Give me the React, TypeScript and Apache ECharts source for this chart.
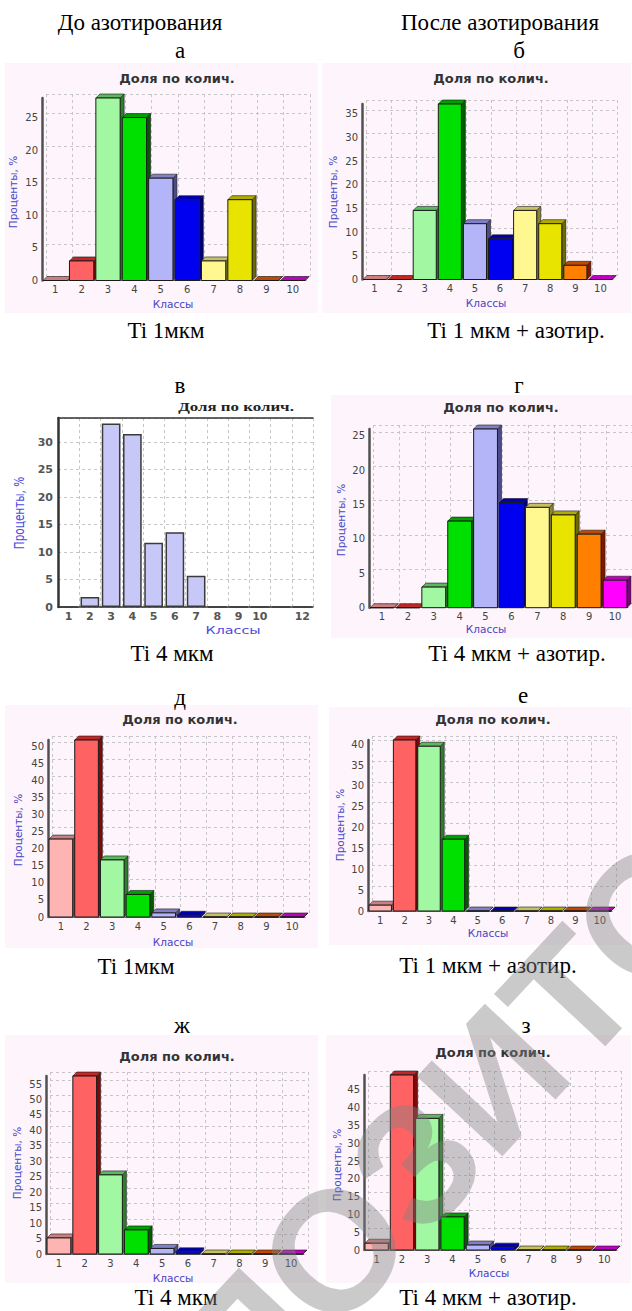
import React, { useEffect, useRef } from 'react';
import * as echarts from 'echarts';

// ---------- data ----------
const CLASSES10 = ['1', '2', '3', '4', '5', '6', '7', '8', '9', '10'];
const CLASSES12 = ['1', '2', '3', '4', '5', '6', '7', '8', '9', '10', '11', '12'];

const VALUES_A = [0, 3, 28, 25, 15.7, 12.4, 3, 12.4, 0, 0];
const VALUES_B = [0, 0, 14.6, 37.1, 11.8, 8.6, 14.6, 11.8, 3.0, 0];
const VALUES_V = [0, 1.8, 33.4, 31.5, 11.7, 13.6, 5.7, 0, 0, 0, 0, 0];
const VALUES_G = [0, 0, 3, 12.6, 26, 15.3, 14.6, 13.5, 10.7, 4.0];
const VALUES_D = [22.8, 51.8, 16.7, 6.6, 1.2, 0.5, 0, 0, 0, 0];
const VALUES_E = [1.4, 41, 39.5, 17.2, 0, 0, 0, 0, 0, 0];
const VALUES_ZH = [5.2, 57.6, 25.6, 7.8, 1.8, 0.7, 0, 0, 0, 0];
const VALUES_Z = [1.9, 49.2, 37, 9.3, 1.4, 0.8, 0, 0, 0, 0];
const V_MAX = 34.4;

const HEADERS = ['До азотирования', 'После азотирования'];
const LETTERS = ['а', 'б', 'в', 'г', 'д', 'е', 'ж', 'з'];
const CAPTIONS = ['Ti 1мкм', 'Ti 1 мкм + азотир.', 'Ti 4 мкм', 'Ti 4 мкм + азотир.', 'Ti 1мкм', 'Ti 1 мкм + азотир.', 'Ti 4 мкм', 'Ti 4 мкм + азотир.'];
const CHART_TITLE = 'Доля по колич.';
const Y_NAME = 'Проценты, %';
const X_NAME = 'Классы';
const WATERMARK = 'РЕПОЗИТОРИЙ';

// ---------- styles ----------
const FRONT = ['#FFB4B4', '#FF6262', '#A2F8A2', '#00E000', '#B4B4F8', '#0000F0', '#FFF890', '#E8E400', '#FF8000', '#FF00FF'];
const TOP = ['#C88080', '#C02828', '#5CB85C', '#00A000', '#8080C8', '#0000B0', '#C8C060', '#B0AC00', '#C04800', '#C000C0'];
const SIDE = ['#905050', '#800808', '#2E7E2E', '#005C00', '#4C4C8C', '#000070', '#8C8430', '#6C6A00', '#801800', '#800080'];
const BG = '#fdf5fb';
const SERIF = "'Liberation Serif', 'Times New Roman', serif";
const SANS = "'DejaVu Sans', sans-serif";

// 3D panels layout: grid (left, top, width, bottom), bg rect, text positions
const PANELS3D = [
  { values: VALUES_A, left: 42, top: 98, width: 264, bottom: 280.5, bg: [5, 63, 313, 250], title: [177, 78], yname: [13, 192], xname: [173, 304] },
  { values: VALUES_B, left: 362, top: 104, width: 251, bottom: 279.5, bg: [322, 63, 309, 250], title: [491, 78], yname: [333, 192], xname: [486, 303] },
  { values: VALUES_G, left: 369, top: 429, width: 259, bottom: 607.7, bg: [331, 395, 301, 243], title: [501, 407], yname: [341, 520], xname: [486, 629] },
  { values: VALUES_D, left: 48, top: 740, width: 257, bottom: 917, bg: [5, 705, 313, 243], title: [180, 719], yname: [18, 830], xname: [173, 942] },
  { values: VALUES_E, left: 368, top: 740, width: 244, bottom: 911, bg: [329, 707, 302, 238], title: [493, 719], yname: [340, 825], xname: [488, 933] },
  { values: VALUES_ZH, left: 46, top: 1076, width: 258, bottom: 1254, bg: [5, 1035, 313, 248], title: [177, 1056], yname: [17, 1163], xname: [173, 1278] },
  { values: VALUES_Z, left: 364, top: 1075, width: 253, bottom: 1250, bg: [326, 1035, 305, 248], title: [493, 1052], yname: [337, 1165], xname: [489, 1273] },
];
const V_PANEL = { left: 58, top: 418, width: 255, bottom: 607, title: [236, 407], yname: [20, 513], xname: [233, 630] };

const HEADER_POS = [[140, 22], [500, 22]];
const LETTER_POS = [[180, 50], [519, 50], [180, 385], [519, 385], [180, 697], [523, 695], [182, 1025], [526, 1025]];
const CAPTION_POS = [[166, 330], [516, 330], [172, 653], [517, 653], [136, 966], [488, 965], [176, 1297], [488, 1297]];

const DEPTH = 4;

const tickFormatter = (v: number) => (Math.abs(v - Math.round(v / 5) * 5) < 1e-6 ? String(Math.round(v)) : '');

function render3D(params: any, api: any) {
  const idx = api.value(0);
  const v = api.value(1);
  const base = api.coord([idx, 0]);
  const top = api.coord([idx, v]);
  const band = api.size([1, 0])[0];
  const w = band * 0.92;
  const l = base[0] - w / 2;
  const r = base[0] + w / 2;
  const yb = base[1];
  const yt = top[1];
  const d = DEPTH;
  const c = idx % 10;
  return {
    type: 'group',
    children: [
      { type: 'polygon', shape: { points: [[r, yt], [r + d, yt - d], [r + d, yb - d], [r, yb]] }, style: { fill: SIDE[c], stroke: '#1a1a1a', lineWidth: 0.6 } },
      { type: 'polygon', shape: { points: [[l, yt], [l + d, yt - d], [r + d, yt - d], [r, yt]] }, style: { fill: TOP[c], stroke: '#1a1a1a', lineWidth: 0.6 } },
      { type: 'rect', shape: { x: l, y: yt, width: w, height: yb - yt }, style: { fill: FRONT[c], stroke: '#1a1a1a', lineWidth: 1 } },
    ],
  };
}

function buildOption() {
  const grid: any[] = [];
  const xAxis: any[] = [];
  const yAxis: any[] = [];
  const series: any[] = [];
  const graphic: any[] = [];
  const dash = { color: '#c6c6c6', type: [3, 3], width: 1 };

  PANELS3D.forEach((p) => {
    const max = Math.max(...p.values);
    const h = p.bottom - p.top;
    // back plane grid (shifted for 3D look) carrying split lines
    const gb = grid.length;
    grid.push({ left: p.left + DEPTH, top: p.top - DEPTH, width: p.width, height: h });
    xAxis.push({ gridIndex: gb, type: 'category', data: CLASSES10, axisLine: { show: false }, axisTick: { show: false }, axisLabel: { show: false }, splitLine: { show: true, interval: 0, lineStyle: dash } });
    yAxis.push({ gridIndex: gb, type: 'value', min: 0, max, interval: 5, axisLine: { show: false }, axisTick: { show: false }, axisLabel: { show: false }, splitLine: { show: true, lineStyle: dash } });
    // front grid
    const gi = grid.length;
    grid.push({ left: p.left, top: p.top, width: p.width, height: h });
    xAxis.push({
      gridIndex: gi, type: 'category', data: CLASSES10, boundaryGap: true,
      axisLine: { show: true, lineStyle: { color: '#707070', width: 1 } }, axisTick: { show: false },
      axisLabel: { interval: 0, margin: 4, fontSize: 10, color: '#444', fontFamily: SANS }, splitLine: { show: false },
    });
    yAxis.push({
      gridIndex: gi, type: 'value', min: 0, max, interval: 5,
      axisLine: { show: true, lineStyle: { color: '#505050', width: 2.5 } }, axisTick: { show: false },
      axisLabel: { margin: 4, fontSize: 10, color: '#444', fontFamily: SANS, formatter: tickFormatter }, splitLine: { show: false },
    });
    series.push({
      type: 'custom', xAxisIndex: gi, yAxisIndex: gi, renderItem: render3D, encode: { x: 0, y: 1 },
      data: p.values.map((v, i) => [i, v]), z: 3,
    });
    graphic.push({ type: 'rect', z: -10, shape: { x: p.bg[0], y: p.bg[1], width: p.bg[2], height: p.bg[3] }, style: { fill: BG } });
    graphic.push({ type: 'text', z: 5, x: p.title[0], y: p.title[1], style: { text: CHART_TITLE, font: `bold 13px ${SANS}`, fill: '#333', textAlign: 'center', textVerticalAlign: 'middle' } });
    graphic.push({ type: 'text', z: 5, x: p.yname[0], y: p.yname[1], rotation: Math.PI / 2, style: { text: Y_NAME, font: `10.5px ${SANS}`, fill: '#4646c8', textAlign: 'center', textVerticalAlign: 'middle' } });
    graphic.push({ type: 'text', z: 5, x: p.xname[0], y: p.xname[1], style: { text: X_NAME, font: `10.5px ${SANS}`, fill: '#4646c8', textAlign: 'center', textVerticalAlign: 'middle' } });
  });

  // flat panel "в"
  {
    const p = V_PANEL;
    const h = p.bottom - p.top;
    const gi = grid.length;
    grid.push({ left: p.left, top: p.top, width: p.width, height: h });
    xAxis.push({
      gridIndex: gi, type: 'category', data: CLASSES12, boundaryGap: true,
      axisLine: { show: true, lineStyle: { color: '#333', width: 1.5 } }, axisTick: { show: false },
      axisLabel: { interval: 0, margin: 4, fontSize: 11, fontWeight: 'bold', color: '#555', fontFamily: SANS, formatter: (v: string) => (v === '11' ? '' : v) },
      splitLine: { show: true, interval: 0, lineStyle: dash },
    });
    xAxis.push({
      gridIndex: gi, type: 'category', data: CLASSES12, position: 'top',
      axisLine: { show: true, lineStyle: { color: '#333', width: 1.5 } }, axisTick: { show: false }, axisLabel: { show: false }, splitLine: { show: false },
    });
    yAxis.push({
      gridIndex: gi, type: 'value', min: 0, max: V_MAX, interval: 5,
      axisLine: { show: true, lineStyle: { color: '#333', width: 2.5 } }, axisTick: { show: false },
      axisLabel: { margin: 5, fontSize: 11, fontWeight: 'bold', color: '#555', fontFamily: SANS, formatter: tickFormatter },
      splitLine: { show: true, lineStyle: dash },
    });
    series.push({
      type: 'bar', xAxisIndex: xAxis.length - 2, yAxisIndex: yAxis.length - 1, data: VALUES_V, barWidth: '88%',
      itemStyle: { color: '#C8C8F8', borderColor: '#3a3a3a', borderWidth: 1.5 }, z: 3,
    });
    graphic.push({ type: 'text', z: 5, x: p.title[0], y: p.title[1], scaleX: 1.3, style: { text: CHART_TITLE, font: `bold 13px ${SERIF}`, fill: '#222', textAlign: 'center', textVerticalAlign: 'middle' } });
    graphic.push({ type: 'text', z: 5, x: p.yname[0], y: p.yname[1], rotation: Math.PI / 2, scaleY: 1.3, style: { text: Y_NAME, font: `10.5px ${SANS}`, fill: '#4a4ae0', textAlign: 'center', textVerticalAlign: 'middle' } });
    graphic.push({ type: 'text', z: 5, x: p.xname[0], y: p.xname[1], scaleX: 1.3, style: { text: X_NAME, font: `11px ${SANS}`, fill: '#4a4ae0', textAlign: 'center', textVerticalAlign: 'middle' } });
  }

  const serifText = (t: string, pos: number[]) => ({
    type: 'text', z: 5, x: pos[0], y: pos[1],
    style: { text: t, font: `23px ${SERIF}`, fill: '#000', textAlign: 'center', textVerticalAlign: 'middle' },
  });
  HEADERS.forEach((t, i) => graphic.push(serifText(t, HEADER_POS[i])));
  LETTERS.forEach((t, i) => graphic.push(serifText(t, LETTER_POS[i])));
  CAPTIONS.forEach((t, i) => graphic.push(serifText(t, CAPTION_POS[i])));

  // watermark (cut by the page edges, as in the reference)
  graphic.push({
    type: 'text', z: 100, x: 494, y: 1079, rotation: (47 * Math.PI) / 180,
    style: { text: WATERMARK, font: `bold 170px 'Liberation Sans', sans-serif`, fill: 'rgba(128,128,128,0.42)', textAlign: 'center', textVerticalAlign: 'middle' },
  });

  return { animation: false, backgroundColor: '#fff', grid, xAxis, yAxis, series, graphic };
}

export default function App() {
  const ref = useRef<HTMLDivElement>(null);
  useEffect(() => {
    if (!ref.current) return;
    const chart = echarts.init(ref.current, undefined, { renderer: 'svg' });
    chart.setOption(buildOption() as any);
    return () => chart.dispose();
  }, []);
  return <div ref={ref} style={{ position: 'absolute', left: 0, top: 0, width: 632, height: 1311 }} />;
}
